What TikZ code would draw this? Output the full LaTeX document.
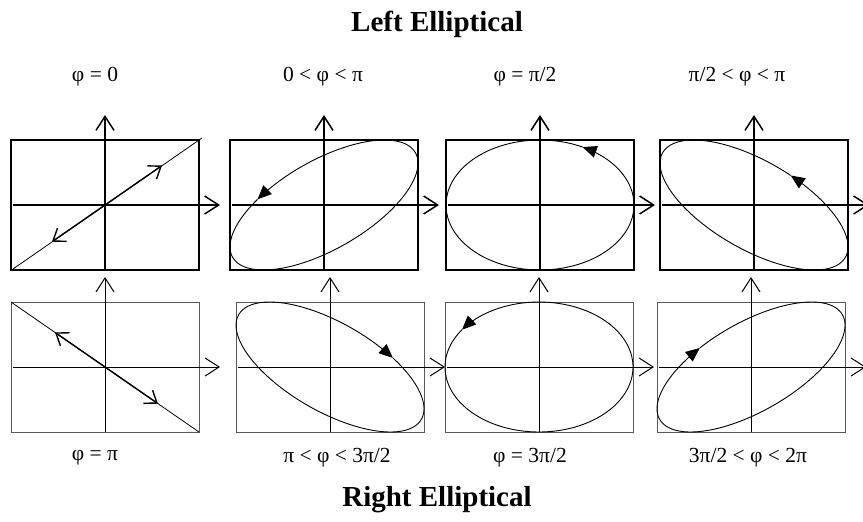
\documentclass[tikz,border=0pt]{standalone}
\usepackage{fontspec}
\setmainfont{Liberation Serif}
\usetikzlibrary{arrows.meta}

\tikzset{
  axis/.style={-{Straight Barb[length=14pt,width=18pt]}},
  barb/.style={-{Straight Barb[length=11pt,width=16pt]}},
  toprow/.style={line width=1.5pt},
  botrow/.style={line width=1pt, draw=black!65},
  curve/.style={line width=0.9pt},
  lbl/.style={font=\fontsize{21.5}{25}\selectfont},
  heading/.style={font=\fontsize{29}{34}\selectfont\bfseries},
}

% box and axes of one panel
\newcommand{\frameaxes}[1]{%
  \draw[#1] (-94,-65) rectangle (94,65);
  \draw[#1, draw=black, axis] (-92,0) -- (115,0);
  \draw[#1, draw=black, axis] (0,-65) -- (0,90);
}
% ellipse x = a cos t, y = b cos(t - delta), arrow at t = #2
\newcommand{\lissa}[2]{%
  \draw[curve, -{Triangle[length=14pt,width=12pt]}] plot[domain=0:#2, samples=80, smooth, variable=\t]
    ({94*cos(\t)}, {65*cos(\t-#1)});
  \draw[curve] plot[domain=#2:360, samples=80, smooth, variable=\t]
    ({94*cos(\t)}, {65*cos(\t-#1)});
}

\begin{document}
\begin{tikzpicture}[x=1pt, y=-1pt]
\useasboundingbox (0,0) rectangle (863,522);

% titres
\node[heading] (left) at (437,24) {Left Elliptical};
\node[heading] (right) at (437,500) {Right Elliptical};

% rangee du haut
\begin{scope}[shift={(105,205)}, yscale=-1]
  \frameaxes{toprow}
  \draw[line width=0.8pt] (-92,-64) -- (97,67);
  \draw[line width=1.4pt, barb] (0,0) -- (57,39.5);
  \draw[line width=1.4pt, barb] (0,0) -- (-53,-36.7);
\end{scope}
\begin{scope}[shift={(324,205)}, yscale=-1]
  \frameaxes{toprow}
  \lissa{50}{135}
\end{scope}
\begin{scope}[shift={(540,205)}, yscale=-1]
  \frameaxes{toprow}
  \lissa{90}{63}
\end{scope}
\begin{scope}[shift={(754,205)}, yscale=-1]
  \frameaxes{toprow}
  \lissa{130}{67}
\end{scope}

% rangee du bas
\begin{scope}[shift={(105,367)}, yscale=-1]
  \frameaxes{botrow}
  \draw[line width=0.8pt] (-94,65) -- (94,-65);
  \draw[line width=1.4pt, barb] (0,0) -- (-50,34.6);
  \draw[line width=1.4pt, barb] (0,0) -- (53,-36.7);
\end{scope}
\begin{scope}[shift={(330,367)}, yscale=-1]
  \frameaxes{botrow}
  \lissa{230}{312}
\end{scope}
\begin{scope}[shift={(539,367)}, yscale=-1]
  \frameaxes{botrow}
  \lissa{90}{145}
\end{scope}
\begin{scope}[shift={(751,367)}, yscale=-1]
  \frameaxes{botrow}
  \lissa{310}{237}
\end{scope}

% etiquettes
\node[lbl] (phi0) at (95,77) {φ = 0};
\node[lbl] (phi1) at (323,77) {0 < φ < π};
\node[lbl] (phi2) at (525,77) {φ = π/2};
\node[lbl] (phi3) at (737,77) {π/2 < φ < π};
\node[lbl] (phi4) at (95,458) {φ = π};
\node[lbl] (phi5) at (337,458) {π < φ < 3π/2};
\node[lbl] (phi6) at (530,458) {φ = 3π/2};
\node[lbl] (phi7) at (748,458) {3π/2 < φ < 2π};
\end{tikzpicture}
\end{document}
